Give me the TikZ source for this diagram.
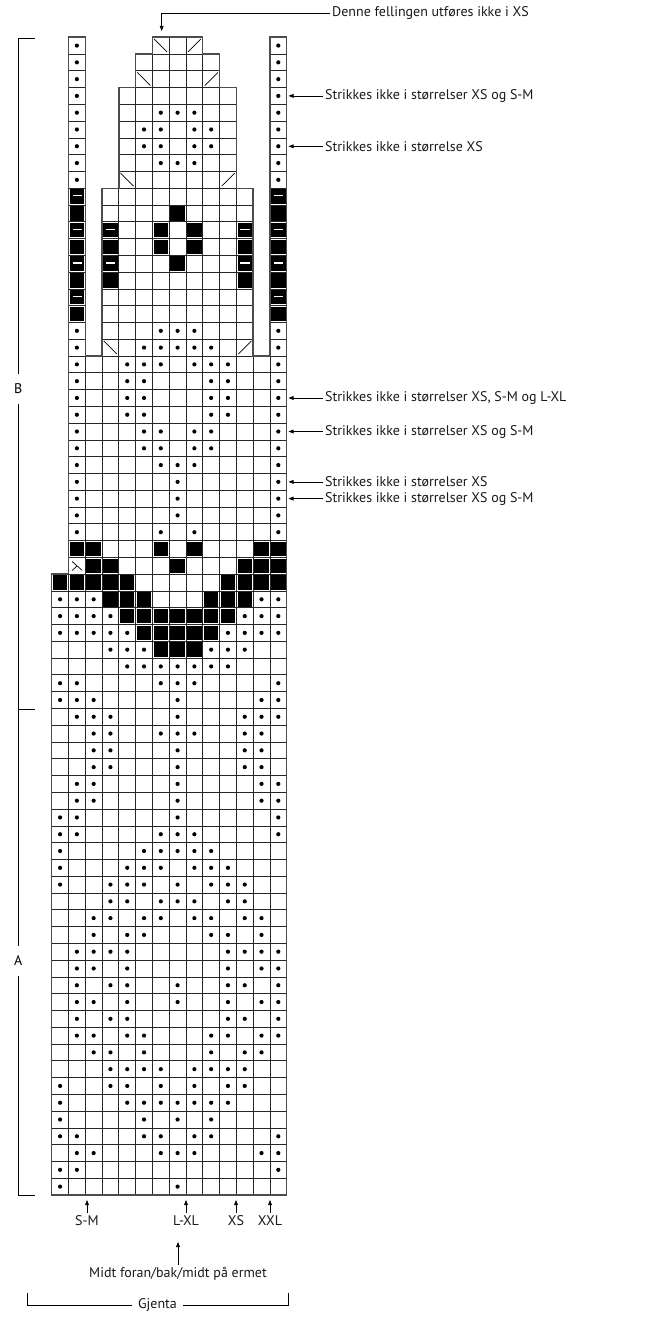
\documentclass[tikz,border=0pt]{standalone}
\usepackage{fontspec}
\setmainfont{PT Sans}
\usetikzlibrary{arrows.meta}
\tikzset{
  cellline/.style={line width=0.7pt, draw=black!85},
  outline/.style={line width=1.4pt, draw=black!70, line join=miter},
  lbl/.style={font=\fontsize{14}{16}\selectfont, inner sep=2pt, text=black!90},
  arr/.style={-{Triangle[length=5pt,width=3.8pt]}, line width=0.7pt},
  brk/.style={line width=0.9pt},
  sidelbl/.style={font=\fontsize{14}{16}\selectfont, inner xsep=2pt, inner ysep=10pt},
}
\newcommand\kdots[2]{\foreach \c in {#2} {\fill (\c+0.5,#1-0.5) circle (2.1pt);}}
\newcommand\kblk[2]{\foreach \c in {#2} {\fill (\c+0.07,#1-0.93) rectangle (\c+0.93,#1-0.07);}}
\newcommand\kblkdash[2]{\foreach \c in {#2} {\fill (\c+0.07,#1-0.93) rectangle (\c+0.93,#1-0.07);
  \draw[white,line width=1.3pt] (\c+0.24,#1-0.45) -- (\c+0.8,#1-0.45);}}
\newcommand\kdecl[2]{\foreach \c in {#2} {\draw[line width=0.7pt] (\c+0.1,#1-0.1) -- (\c+0.88,#1-0.88);}}
\newcommand\kdecr[2]{\foreach \c in {#2} {\draw[line width=0.7pt] (\c+0.12,#1-0.88) -- (\c+0.9,#1-0.1);}}
\begin{document}
\begin{tikzpicture}[x=1pt,y=-1pt]
\useasboundingbox (0,0) rectangle (648,1319);
\begin{scope}[shift={(51.7,1195)}, x=16.785pt, y=16.78pt]
  % cells
  \foreach \r in {1,...,37} {\foreach \c in {0,...,13} {\draw[cellline] (\c,\r-1) rectangle ++(1,1);}}
  \foreach \r in {38,...,50} {\foreach \c in {1,...,13} {\draw[cellline] (\c,\r-1) rectangle ++(1,1);}}
  \foreach \r in {51,...,60} {\foreach \c in {1,3,4,5,6,7,8,9,10,11,13} {\draw[cellline] (\c,\r-1) rectangle ++(1,1);}}
  \foreach \r in {61,...,66} {\foreach \c in {1,4,5,6,7,8,9,10,13} {\draw[cellline] (\c,\r-1) rectangle ++(1,1);}}
  \foreach \r in {67,68} {\foreach \c in {1,5,6,7,8,9,13} {\draw[cellline] (\c,\r-1) rectangle ++(1,1);}}
  \foreach \c in {1,6,7,8,13} {\draw[cellline] (\c,68) rectangle ++(1,1);}
  % outline
  \draw[outline] (0,0) -- (14,0) -- (14,69) -- (13,69) -- (13,50) -- (12,50) -- (12,60) -- (11,60)
    -- (11,66) -- (10,66) -- (10,68) -- (9,68) -- (9,69) -- (6,69) -- (6,68) -- (5,68) -- (5,66)
    -- (4,66) -- (4,60) -- (3,60) -- (3,50) -- (2,50) -- (2,69) -- (1,69) -- (1,37) -- (0,37) -- cycle;
  % symbols
  \kdots{1}{0,7}
  \kdots{2}{0,1,13}
  \kdots{3}{1,2,6,7,8,12,13}
  \kdots{4}{0,1,5,6,8,9,13}
  \kdots{5}{0,5,7,9}
  \kdots{6}{0,4,5,6,7,8,9,10}
  \kdots{7}{0,3,4,6,8,10,11}
  \kdots{8}{3,4,5,6,8,9,10,11}
  \kdots{9}{2,3,5,9,11,12}
  \kdots{10}{1,2,4,5,9,10,12,13}
  \kdots{11}{1,3,4,10,11,13}
  \kdots{12}{1,2,4,7,10,12,13}
  \kdots{13}{1,3,4,7,10,11,13}
  \kdots{14}{1,2,4,10,12,13}
  \kdots{15}{1,2,3,4,10,11,12,13}
  \kdots{16}{2,4,5,9,10,12}
  \kdots{17}{2,3,5,6,8,9,11,12}
  \kdots{18}{3,4,6,7,8,10,11}
  \kdots{19}{0,3,4,5,7,9,10,11}
  \kdots{20}{0,4,5,6,8,9,10}
  \kdots{21}{0,5,6,7,8,9}
  \kdots{22}{0,1,6,7,8,13}
  \kdots{23}{0,1,7,13}
  \kdots{24}{1,2,7,12,13}
  \kdots{25}{1,2,7,12,13}
  \kdots{26}{2,3,7,11,12}
  \kdots{27}{2,3,7,11,12}
  \kdots{28}{2,3,6,7,8,11,12}
  \kdots{29}{1,2,3,7,11,12,13}
  \kdots{30}{0,1,2,7,12,13}
  \kdots{31}{0,1,6,7,8,13}
  \kdots{32}{4,5,6,7,8,9,10}
  \kdots{33}{3,4,5,9,10,11}
  \kblk{33}{6,7,8}
  \kdots{34}{0,1,2,3,4,10,11,12,13}
  \kblk{34}{5,6,7,8,9}
  \kdots{35}{0,1,2,3,11,12,13}
  \kblk{35}{4,5,6,7,8,9,10}
  \kdots{36}{0,1,2,12,13}
  \kblk{36}{3,4,5,9,10,11}
  \kblk{37}{0,1,2,3,4,10,11,12,13}
  \kblk{38}{2,3,7,11,12,13}
  \draw[line width=0.7pt] (1.22,37.75) -- (1.82,37.22);
  \draw[line width=0.7pt] (1.22,37.22) -- (1.5,37.48);
  \kblk{39}{1,2,6,8,12,13}
  \kdots{40}{1,6,8,13}
  \kdots{41}{1,7,13}
  \kdots{42}{1,7,13}
  \kdots{43}{1,7,13}
  \kdots{44}{1,6,7,8,13}
  \kdots{45}{1,5,6,8,9,13}
  \kdots{46}{1,5,6,8,9,13}
  \kdots{47}{1,4,5,9,10,13}
  \kdots{48}{1,4,5,9,10,13}
  \kdots{49}{1,4,5,9,10,13}
  \kdots{50}{1,4,5,6,8,9,10,13}
  \kdots{51}{1,5,6,7,8,9,13}
  \kdecl{51}{3}
  \kdecr{51}{11}
  \kdots{52}{1,6,7,8,13}
  \kblk{53}{1,13}
  \kblkdash{54}{1,13}
  \kblk{55}{1,3,11,13}
  \kblkdash{56}{1,3,11,13}
  \kblk{56}{7}
  \kblk{57}{1,3,6,8,11,13}
  \kblkdash{58}{1,3,11,13}
  \kblk{58}{6,8}
  \kblk{59}{1,7,13}
  \kblkdash{60}{1,13}
  \kdots{61}{1,13}
  \kdecl{61}{4}
  \kdecr{61}{10}
  \kdots{62}{1,6,7,8,13}
  \kdots{63}{1,5,6,8,9,13}
  \kdots{64}{1,5,6,8,9,13}
  \kdots{65}{1,6,7,8,13}
  \kdots{66}{1,13}
  \kdots{67}{1,13}
  \kdecl{67}{5}
  \kdecr{67}{9}
  \kdots{68}{1,13}
  \kdots{69}{1,13}
  \kdecl{69}{6}
  \kdecr{69}{8}
\end{scope}

% top label
\node[lbl, anchor=west] (tl) at (330,13.3) {Denne fellingen utføres ikke i XS};
\coordinate (tt) at (161.7,31);
\draw[arr] (tl.west) -| (tt);

% right labels
\node[lbl, anchor=west] (r1) at (323,95.9) {Strikkes ikke i størrelser XS og S-M};
\node[lbl, anchor=west] (r2) at (323,146.3) {Strikkes ikke i størrelse XS};
\node[lbl, anchor=west] (r3) at (323,398.0) {Strikkes ikke i størrelser XS, S-M og L-XL};
\node[lbl, anchor=west] (r4) at (323,431.5) {Strikkes ikke i størrelser XS og S-M};
\node[lbl, anchor=west] (r5) at (323,481.9) {Strikkes ikke i størrelser XS};
\node[lbl, anchor=west] (r6) at (323,498.6) {Strikkes ikke i størrelser XS og S-M};
\coordinate (t1) at (288.5,95.9);
\coordinate (t2) at (288.5,146.3);
\coordinate (t3) at (288.5,398.0);
\coordinate (t4) at (288.5,431.5);
\coordinate (t5) at (288.5,481.9);
\coordinate (t6) at (288.5,498.6);
\foreach \i in {1,...,6} {\draw[arr] (r\i.west) -- (t\i);}

% bottom labels
\node[lbl, anchor=north] (bSM) at (87,1213) {S-M};
\node[lbl, anchor=north] (bLXL) at (186,1213) {L-XL};
\node[lbl, anchor=north] (bXS) at (236,1213) {XS};
\node[lbl, anchor=north] (bXXL) at (270,1213) {XXL};
\coordinate (aSM) at (87,1200);
\coordinate (aLXL) at (186,1200);
\coordinate (aXS) at (236,1200);
\coordinate (aXXL) at (270,1200);
\draw[arr] (bSM.north) -- (aSM);
\draw[arr] (bLXL.north) -- (aLXL);
\draw[arr] (bXS.north) -- (aXS);
\draw[arr] (bXXL.north) -- (aXXL);

\node[lbl, anchor=north] (mid) at (178,1265) {Midt foran/bak/midt på ermet};
\coordinate (amid) at (178,1242);
\draw[arr] (mid.north) -- (amid);

% Gjenta bracket
\node[lbl, inner xsep=6pt] (gj) at (157.5,1305) {Gjenta};
\coordinate (gl) at (27,1293);
\coordinate (gr) at (288,1293);
\draw[brk] (gl) |- (gj.west);
\draw[brk] (gr) |- (gj.east);

% left bracket
\node[sidelbl] (B) at (18.3,389) {B};
\node[sidelbl] (A) at (18.3,961) {A};
\coordinate (bT) at (35,38.3);
\coordinate (bB) at (35,1195);
\coordinate (abL) at (18.3,709);
\coordinate (abR) at (35,709);
\draw[brk] (bT) -| (B.north);
\draw[brk] (B.south) -- (A.north);
\draw[brk] (A.south) |- (bB);
\draw[brk] (abL) -- (abR);
\end{tikzpicture}
\end{document}
